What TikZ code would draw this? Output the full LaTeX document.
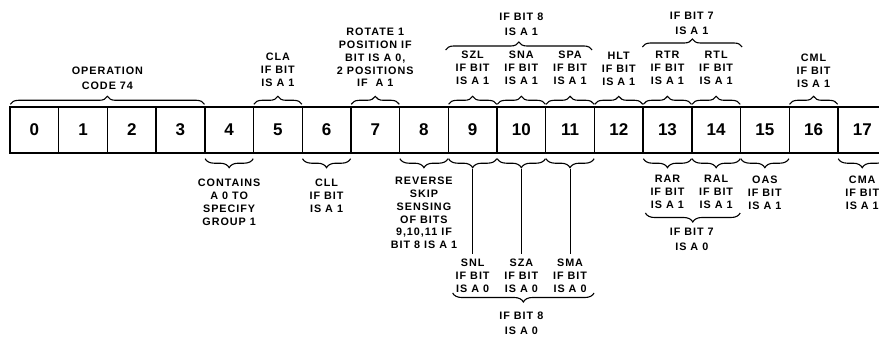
\documentclass[tikz,border=0pt]{standalone}
\usepackage{fontspec}
\setmainfont{Liberation Sans}
\newfontfamily\lblfont[LetterSpace=9]{Liberation Sans}
\usetikzlibrary{decorations.pathreplacing,calc}
\begin{document}
\begin{tikzpicture}[x=1pt,y=-1pt,
  cell/.style={draw, line width=1.4pt, minimum width=48.7pt, minimum height=46pt, inner sep=0pt,
    font=\bfseries\fontsize{17}{17}\selectfont},
  lbl/.style={font=\lblfont\bfseries\fontsize{10.8}{12.8}\selectfont, align=center, inner sep=0pt, anchor=north},
  lblw/.style={font=\lblfont\bfseries\fontsize{10.8}{14.5}\selectfont, align=center, inner sep=0pt, anchor=north},
  tbrace/.style={decorate, decoration={brace, amplitude=8pt}, line width=1.1pt},
  bbrace/.style={decorate, decoration={brace, amplitude=9pt, mirror}, line width=1.1pt},
  stem/.style={line width=0.9pt}]
\useasboundingbox (0,0) rectangle (879,337);
\clip (0,0) rectangle (879,337);
\fill[white] (0,0) rectangle (879,337);
% register cells
\foreach \i in {0,...,17}
  \node[cell] (c\i) at ({34.35+48.7*\i},130) {\i};
\coordinate (m03) at ($(c0)!0.5!(c3)$);
\coordinate (m1314) at ($(c13)!0.5!(c14)$);
% small braces above
\draw[tbrace] ([shift={(1,-2)}]c0.north west) -- ([shift={(-1,-2)}]c3.north east);
\foreach \i in {5,7,9,10,11,12,13,14,16}
  \draw[tbrace] ([shift={(1,-2)}]c\i.north west) -- ([shift={(-1,-2)}]c\i.north east);
% small braces below
\foreach \i in {4,6,8,9,10,11,13,14,15,17}
  \draw[bbrace] ([shift={(1,5)}]c\i.south west) -- ([shift={(-1,5)}]c\i.south east);
% top labels
\node[lblw] (op) at (m03 |- 0,67) {OPERATION\\CODE 74};
\node[lbl] (cla) at (c5 |- 0,53) {CLA\\IF BIT\\IS A 1};
\node[lbl] (rot) at (c7 |- 0,28) {ROTATE 1\\POSITION IF\\BIT IS A 0,\\2 POSITIONS\\IF\ \ A 1};
\node[lbl] (szl) at (c9 |- 0,51) {SZL\\IF BIT\\IS A 1};
\node[lbl] (sna) at (c10 |- 0,51) {SNA\\IF BIT\\IS A 1};
\node[lbl] (spa) at (c11 |- 0,51) {SPA\\IF BIT\\IS A 1};
\node[lbl] (hlt) at (c12 |- 0,52) {HLT\\IF BIT\\IS A 1};
\node[lbl] (rtr) at (c13 |- 0,51) {RTR\\IF BIT\\IS A 1};
\node[lbl] (rtl) at (c14 |- 0,51) {RTL\\IF BIT\\IS A 1};
\node[lbl] (cml) at (c16 |- 0,54) {CML\\IF BIT\\IS A 1};
\node[lblw] (b8a) at (c10 |- 0,13) {IF BIT 8\\IS A 1};
\node[lblw] (b7a) at (m1314 |- 0,12) {IF BIT 7\\IS A 1};
% big braces above
\draw[tbrace] ($(c9.west |- 0,50)+(-2,0)$) -- ($(c11.east |- 0,50)+(-3,0)$);
\draw[tbrace] ($(c13.west |- 0,47)+(0,0)$) -- ($(c14.east |- 0,47)+(1,0)$);
% bottom labels
\node[lbl] (cont) at (c4 |- 0,179) {CONTAINS\\A 0 TO\\SPECIFY\\GROUP 1};
\node[lbl] (cll) at (c6 |- 0,179) {CLL\\IF BIT\\IS A 1};
\node[lbl] (rev) at (c8 |- 0,177) {REVERSE\\SKIP\\SENSING\\OF BITS\\9,10,11 IF\\BIT 8 IS A 1};
\node[lbl] (snl) at (c9 |- 0,259) {SNL\\IF BIT\\IS A 0};
\node[lbl] (sza) at (c10 |- 0,259) {SZA\\IF BIT\\IS A 0};
\node[lbl] (sma) at (c11 |- 0,259) {SMA\\IF BIT\\IS A 0};
\node[lbl] (rar) at (c13 |- 0,175) {RAR\\IF BIT\\IS A 1};
\node[lbl] (ral) at (c14 |- 0,175) {RAL\\IF BIT\\IS A 1};
\node[lbl] (oas) at (c15 |- 0,176) {OAS\\IF BIT\\IS A 1};
\node[lbl] (cma) at (c17 |- 0,176) {CMA\\IF BIT\\IS A 1};
\node[lblw] (b8b) at (c10 |- 0,312) {IF BIT 8\\IS A 0};
\node[lblw] (b7b) at (m1314 |- 0,228) {IF BIT 7\\IS A 0};
% stems from braces to labels
\draw[stem] ([yshift=-15pt]c9.south) -- ([yshift=5pt]snl.north);
\draw[stem] ([yshift=-15pt]c10.south) -- ([yshift=5pt]sza.north);
\draw[stem] ([yshift=-15pt]c11.south) -- ([yshift=5pt]sma.north);
% big braces below
\draw[bbrace] ($(c9 |- 0,293)+(-20,0)$) -- ($(c11 |- 0,293)+(24,0)$);
\draw[bbrace] ($(c13.west |- 0,213)+(3,0)$) -- ($(c14.east |- 0,213)+(-1,0)$);
\end{tikzpicture}
\end{document}
